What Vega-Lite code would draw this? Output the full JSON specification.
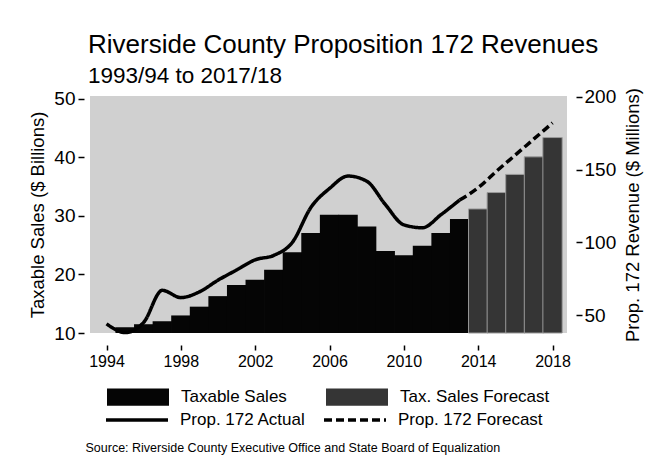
{
  "$schema": "https://vega.github.io/schema/vega-lite/v6.json",
  "autosize": {"type": "none"},
  "width": 477,
  "height": 237,
  "padding": {"left": 90, "top": 96, "right": 95, "bottom": 143},
  "background": "white",
  "title": {
    "text": "Riverside County Proposition 172 Revenues",
    "subtitle": "1993/94 to 2017/18",
    "anchor": "start",
    "frame": "group",
    "dx": -2,
    "offset": 0,
    "font": "Liberation Sans",
    "fontSize": 26,
    "fontWeight": "normal",
    "color": "black",
    "subtitleFont": "Liberation Sans",
    "subtitleFontSize": 22.5,
    "subtitleColor": "black",
    "subtitlePadding": 7
  },
  "datasets": {
    "sales": [
      {"year": 1995, "sales": 11.0, "type": "Taxable Sales"},
      {"year": 1996, "sales": 11.5, "type": "Taxable Sales"},
      {"year": 1997, "sales": 12.0, "type": "Taxable Sales"},
      {"year": 1998, "sales": 13.0, "type": "Taxable Sales"},
      {"year": 1999, "sales": 14.5, "type": "Taxable Sales"},
      {"year": 2000, "sales": 16.3, "type": "Taxable Sales"},
      {"year": 2001, "sales": 18.2, "type": "Taxable Sales"},
      {"year": 2002, "sales": 19.1, "type": "Taxable Sales"},
      {"year": 2003, "sales": 20.8, "type": "Taxable Sales"},
      {"year": 2004, "sales": 23.8, "type": "Taxable Sales"},
      {"year": 2005, "sales": 27.1, "type": "Taxable Sales"},
      {"year": 2006, "sales": 30.2, "type": "Taxable Sales"},
      {"year": 2007, "sales": 30.2, "type": "Taxable Sales"},
      {"year": 2008, "sales": 28.2, "type": "Taxable Sales"},
      {"year": 2009, "sales": 24.0, "type": "Taxable Sales"},
      {"year": 2010, "sales": 23.3, "type": "Taxable Sales"},
      {"year": 2011, "sales": 24.9, "type": "Taxable Sales"},
      {"year": 2012, "sales": 27.1, "type": "Taxable Sales"},
      {"year": 2013, "sales": 29.5, "type": "Taxable Sales"},
      {"year": 2014, "sales": 31.2, "type": "Tax. Sales Forecast"},
      {"year": 2015, "sales": 34.0, "type": "Tax. Sales Forecast"},
      {"year": 2016, "sales": 37.1, "type": "Tax. Sales Forecast"},
      {"year": 2017, "sales": 40.1, "type": "Tax. Sales Forecast"},
      {"year": 2018, "sales": 43.4, "type": "Tax. Sales Forecast"}
    ],
    "revenue": [
      {"year": 1994, "revenue": 44, "series": "Prop. 172 Actual"},
      {"year": 1995, "revenue": 38, "series": "Prop. 172 Actual"},
      {"year": 1996, "revenue": 45, "series": "Prop. 172 Actual"},
      {"year": 1997, "revenue": 67, "series": "Prop. 172 Actual"},
      {"year": 1998, "revenue": 62, "series": "Prop. 172 Actual"},
      {"year": 1999, "revenue": 66, "series": "Prop. 172 Actual"},
      {"year": 2000, "revenue": 74, "series": "Prop. 172 Actual"},
      {"year": 2001, "revenue": 81, "series": "Prop. 172 Actual"},
      {"year": 2002, "revenue": 88, "series": "Prop. 172 Actual"},
      {"year": 2003, "revenue": 91, "series": "Prop. 172 Actual"},
      {"year": 2004, "revenue": 100, "series": "Prop. 172 Actual"},
      {"year": 2005, "revenue": 124, "series": "Prop. 172 Actual"},
      {"year": 2006, "revenue": 137, "series": "Prop. 172 Actual"},
      {"year": 2007, "revenue": 145.5, "series": "Prop. 172 Actual"},
      {"year": 2008, "revenue": 142, "series": "Prop. 172 Actual"},
      {"year": 2009, "revenue": 126, "series": "Prop. 172 Actual"},
      {"year": 2010, "revenue": 112, "series": "Prop. 172 Actual"},
      {"year": 2011, "revenue": 110, "series": "Prop. 172 Actual"},
      {"year": 2012, "revenue": 119, "series": "Prop. 172 Actual"},
      {"year": 2013, "revenue": 129, "series": "Prop. 172 Actual"},
      {"year": 2013, "revenue": 129, "series": "Prop. 172 Forecast"},
      {"year": 2014, "revenue": 137.5, "series": "Prop. 172 Forecast"},
      {"year": 2015, "revenue": 149, "series": "Prop. 172 Forecast"},
      {"year": 2016, "revenue": 160, "series": "Prop. 172 Forecast"},
      {"year": 2017, "revenue": 171, "series": "Prop. 172 Forecast"},
      {"year": 2018, "revenue": 182, "series": "Prop. 172 Forecast"}
    ]
  },
  "encoding": {
    "x": {
      "field": "year",
      "type": "quantitative",
      "scale": {"domain": [1993.38, 2018.51], "nice": false, "zero": false},
      "axis": {
        "values": [1994, 1998, 2002, 2006, 2010, 2014, 2018],
        "format": "d",
        "labelFlush": false,
        "domain": false,
        "grid": false,
        "offset": 12,
        "tickSize": 5,
        "tickWidth": 1.5,
        "tickColor": "black",
        "labelPadding": 3,
        "labelFont": "Liberation Sans",
        "labelFontSize": 16,
        "labelColor": "black",
        "title": "Source: Riverside County Executive Office and State Board of Equalization",
        "titleFont": "Liberation Sans",
        "titleFontSize": 12.5,
        "titleFontWeight": "normal",
        "titleColor": "black",
        "titleAnchor": "start",
        "titleX": -5,
        "titlePadding": 72
      }
    }
  },
  "layer": [
    {
      "data": {"name": "sales"},
      "mark": {"type": "bar", "width": 19.3, "strokeWidth": 1},
      "encoding": {
        "y": {
          "field": "sales",
          "type": "quantitative",
          "scale": {"domain": [10, 50.5], "nice": false, "zero": false},
          "axis": {
            "orient": "left",
            "values": [10, 20, 30, 40, 50],
            "domain": false,
            "grid": false,
            "offset": 6,
            "tickSize": 6,
            "tickWidth": 1.5,
            "tickColor": "black",
            "labelPadding": 3,
            "labelFont": "Liberation Sans",
            "labelFontSize": 19,
            "labelColor": "black",
            "title": "Taxable Sales ($ Billions)",
            "titleFont": "Liberation Sans",
            "titleFontSize": 18.5,
            "titleFontWeight": "normal",
            "titleColor": "black",
            "titlePadding": 6
          }
        },
        "y2": {"datum": 10},
        "fill": {
          "field": "type",
          "type": "nominal",
          "scale": {"domain": ["Taxable Sales", "Tax. Sales Forecast"], "range": ["#050505", "#353535"]},
          "legend": {
            "orient": "none",
            "legendX": 17,
            "legendY": 270,
            "direction": "horizontal",
            "columns": 2,
            "title": null,
            "symbolType": "M-1,-0.28H1V0.28H-1Z",
            "symbolSize": 3844,
            "symbolStrokeWidth": 0,
            "labelFont": "Liberation Sans",
            "labelFontSize": 17,
            "labelColor": "black",
            "labelOffset": 12,
            "columnPadding": 39
          }
        },
        "stroke": {
          "condition": {"test": "datum.type === 'Tax. Sales Forecast'", "value": "#9a9a9a"},
          "value": null
        }
      }
    },
    {
      "data": {"name": "revenue"},
      "mark": {"type": "line", "color": "black", "strokeWidth": 3.5, "interpolate": "monotone"},
      "encoding": {
        "y": {
          "field": "revenue",
          "type": "quantitative",
          "scale": {"domain": [37.7, 200.5], "nice": false, "zero": false},
          "axis": {
            "orient": "right",
            "values": [50, 100, 150, 200],
            "domain": false,
            "grid": false,
            "offset": 9,
            "tickSize": 6,
            "tickWidth": 1.5,
            "tickColor": "black",
            "labelPadding": 2,
            "labelFont": "Liberation Sans",
            "labelFontSize": 19,
            "labelColor": "black",
            "title": "Prop. 172 Revenue ($ Millions)",
            "titleFont": "Liberation Sans",
            "titleFontSize": 18.5,
            "titleFontWeight": "normal",
            "titleColor": "black",
            "titleAngle": -90,
            "titleBaseline": "top",
            "titlePadding": 8
          }
        },
        "strokeDash": {
          "field": "series",
          "type": "nominal",
          "scale": {"domain": ["Prop. 172 Actual", "Prop. 172 Forecast"], "range": [[1, 0], [8, 4]]},
          "legend": {
            "orient": "none",
            "legendX": 14,
            "legendY": 291,
            "direction": "horizontal",
            "columns": 2,
            "title": null,
            "symbolType": "stroke",
            "symbolSize": 3844,
            "symbolStrokeWidth": 3.5,
            "symbolStrokeColor": "black",
            "labelFont": "Liberation Sans",
            "labelFontSize": 17,
            "labelColor": "black",
            "labelOffset": 10,
            "columnPadding": 11
          }
        }
      }
    }
  ],
  "resolve": {"scale": {"y": "independent"}},
  "config": {
    "view": {"fill": "#d0d0d0", "stroke": null},
    "font": "Liberation Sans"
  }
}
